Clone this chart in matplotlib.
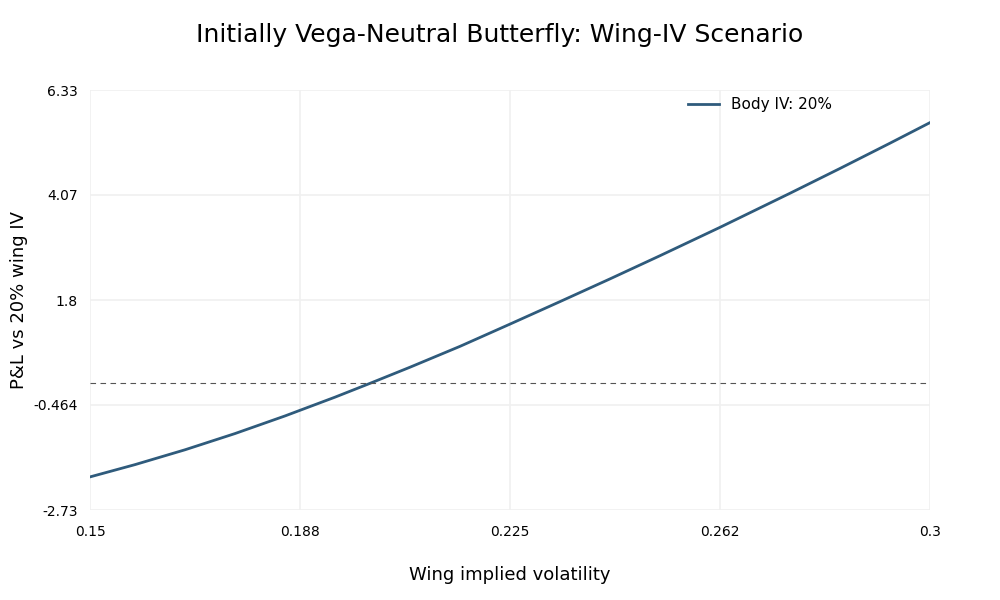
import matplotlib
matplotlib.use("Agg")
import matplotlib.pyplot as plt

wing_iv = [0.15, 0.158036, 0.166964, 0.175893, 0.184821, 0.19375, 0.2, 0.207143,
           0.216071, 0.225, 0.233929, 0.242857, 0.251786, 0.2625, 0.275, 0.283929,
           0.292857, 0.3]
pnl = [-2.015, -1.750, -1.430, -1.080, -0.700, -0.295, 0.003, 0.351, 0.801, 1.281,
       1.766, 2.256, 2.756, 3.368, 4.103, 4.638, 5.183, 5.627]
series_label = "Body IV: 20%"
x_ticks = [0.15, 0.1875, 0.225, 0.2625, 0.3]
x_tick_labels = ["0.15", "0.188", "0.225", "0.262", "0.3"]
y_ticks = [-2.7287, -0.464, 1.8007, 4.0654, 6.3301]
y_tick_labels = ["-2.73", "-0.464", "1.8", "4.07", "6.33"]

fig = plt.figure(figsize=(10, 6), dpi=100)
ax = fig.add_axes([0.09, 0.15, 0.84, 0.70])

ax.plot(wing_iv, pnl, color="#2f5b7c", lw=2.0, label=series_label,
        solid_joinstyle="round")
ax.axhline(0, color="#555555", lw=0.8, ls=(0, (5, 4)))

ax.set_xlim(0.15, 0.3)
ax.set_ylim(y_ticks[0], y_ticks[-1])
ax.set_xticks(x_ticks)
ax.set_xticklabels(x_tick_labels)
ax.set_yticks(y_ticks)
ax.set_yticklabels(y_tick_labels)
ax.tick_params(length=0, labelsize=10)
ax.tick_params(axis="y", pad=9)
ax.tick_params(axis="x", pad=11)
ax.grid(True, color="#f0f0f0", lw=1.2)
ax.set_axisbelow(True)
for s in ax.spines.values():
    s.set_visible(False)

ax.set_xlabel("Wing implied volatility", fontsize=13, labelpad=19)
ax.set_ylabel("P&L vs 20% wing IV", fontsize=13, labelpad=4)
fig.suptitle("Initially Vega-Neutral Butterfly: Wing-IV Scenario", fontsize=18, y=0.962)

ax.legend(loc="upper right", bbox_to_anchor=(0.9, 1.015), frameon=False, fontsize=11)

fig.savefig("out.png", dpi=100)
